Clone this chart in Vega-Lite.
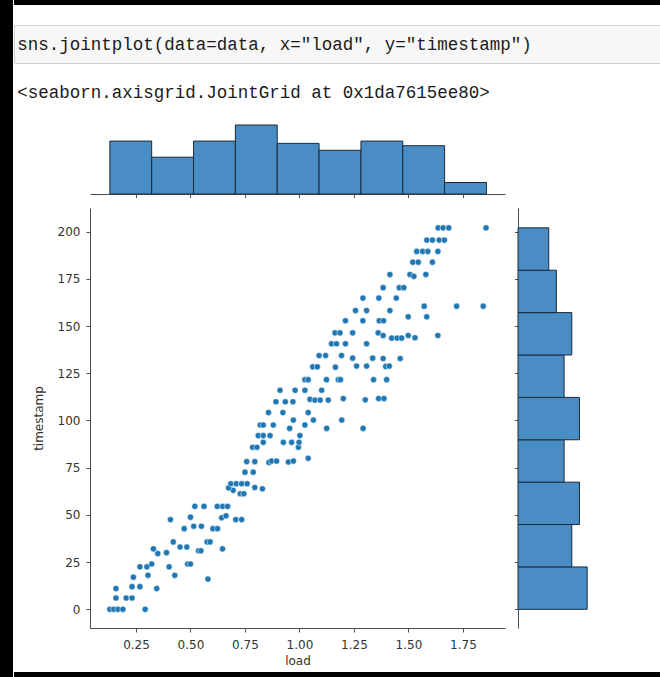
{
  "$schema": "https://vega.github.io/schema/vega-lite/v6.json",
  "background": "white",
  "padding": 0,
  "config": {
    "view": {"stroke": null},
    "axis": {
      "labelFont": "DejaVu Sans", "titleFont": "DejaVu Sans",
      "labelFontSize": 12, "titleFontSize": 12, "titleFontWeight": "normal",
      "labelColor": "#333333", "titleColor": "#333333",
      "domainColor": "#4d4d4d", "tickColor": "#4d4d4d", "domainWidth": 1, "tickWidth": 1,
      "tickSize": 4, "grid": false
    }
  },
  "datasets": {
    "none": [],
    "code": [{"line": "sns.jointplot(data=data, x=\"load\", y=\"timestamp\")"}],
    "out": [{"line": "<seaborn.axisgrid.JointGrid at 0x1da7615ee80>"}],
    "loadHist": [
      {"lo": 0.13, "hi": 0.322, "count": 23},
      {"lo": 0.322, "hi": 0.514, "count": 16},
      {"lo": 0.514, "hi": 0.706, "count": 23},
      {"lo": 0.706, "hi": 0.898, "count": 30},
      {"lo": 0.898, "hi": 1.09, "count": 22},
      {"lo": 1.09, "hi": 1.282, "count": 19},
      {"lo": 1.282, "hi": 1.474, "count": 23},
      {"lo": 1.474, "hi": 1.666, "count": 21},
      {"lo": 1.666, "hi": 1.858, "count": 5}
    ],
    "tsHist": [
      {"lo": 0, "hi": 22.44, "count": 27},
      {"lo": 22.44, "hi": 44.89, "count": 21},
      {"lo": 44.89, "hi": 67.33, "count": 24},
      {"lo": 67.33, "hi": 89.78, "count": 18},
      {"lo": 89.78, "hi": 112.22, "count": 24},
      {"lo": 112.22, "hi": 134.67, "count": 18},
      {"lo": 134.67, "hi": 157.11, "count": 21},
      {"lo": 157.11, "hi": 179.56, "count": 15},
      {"lo": 179.56, "hi": 202, "count": 12}
    ],
    "points": [
      {"load":0.13,"timestamp":0},{"load":0.148,"timestamp":0},{"load":0.167,"timestamp":0},{"load":0.19,"timestamp":0},{"load":0.292,"timestamp":0},
      {"load":0.158,"timestamp":6},{"load":0.205,"timestamp":6},{"load":0.232,"timestamp":6},
      {"load":0.158,"timestamp":11},{"load":0.232,"timestamp":12},{"load":0.268,"timestamp":12},{"load":0.345,"timestamp":11},
      {"load":0.238,"timestamp":17},{"load":0.58,"timestamp":16},
      {"load":0.305,"timestamp":18},{"load":0.428,"timestamp":18},
      {"load":0.268,"timestamp":22.5},{"load":0.3,"timestamp":22.5},{"load":0.402,"timestamp":22.5},
      {"load":0.322,"timestamp":24},{"load":0.487,"timestamp":24},{"load":0.5,"timestamp":24},
      {"load":0.35,"timestamp":29.5},{"load":0.39,"timestamp":30},{"load":0.537,"timestamp":31},{"load":0.548,"timestamp":31},
      {"load":0.33,"timestamp":32},{"load":0.647,"timestamp":32},
      {"load":0.452,"timestamp":33},{"load":0.483,"timestamp":33},
      {"load":0.421,"timestamp":35.7},{"load":0.576,"timestamp":35.7},{"load":0.59,"timestamp":35.7},
      {"load":0.471,"timestamp":42.7},{"load":0.603,"timestamp":42.7},{"load":0.624,"timestamp":42.7},
      {"load":0.515,"timestamp":44},{"load":0.55,"timestamp":44},
      {"load":0.408,"timestamp":47.5},{"load":0.643,"timestamp":48.5},{"load":0.663,"timestamp":49.5},{"load":0.708,"timestamp":47.5},{"load":0.735,"timestamp":47.5},
      {"load":0.5,"timestamp":48.8},
      {"load":0.52,"timestamp":54.5},{"load":0.562,"timestamp":54.5},{"load":0.623,"timestamp":54.5},{"load":0.648,"timestamp":54.5},{"load":0.67,"timestamp":54.5},
      {"load":0.728,"timestamp":61.2},{"load":0.745,"timestamp":61.2},
      {"load":0.696,"timestamp":63},
      {"load":0.795,"timestamp":64.5},{"load":0.83,"timestamp":63.8},{"load":0.675,"timestamp":64.3},
      {"load":0.685,"timestamp":66.5},{"load":0.71,"timestamp":66.5},{"load":0.735,"timestamp":66.5},{"load":0.76,"timestamp":66.5},
      {"load":0.75,"timestamp":72.6},{"load":0.788,"timestamp":72.6},
      {"load":0.758,"timestamp":78.2},{"load":0.795,"timestamp":78.2},{"load":0.86,"timestamp":77.8},{"load":0.872,"timestamp":78.5},{"load":0.895,"timestamp":78.5},{"load":0.949,"timestamp":78},{"load":0.972,"timestamp":78.5},{"load":1.04,"timestamp":80},
      {"load":0.785,"timestamp":85.8},{"load":0.805,"timestamp":85.8},{"load":0.995,"timestamp":85.8},
      {"load":0.834,"timestamp":88.4},{"load":0.926,"timestamp":88.4},{"load":0.964,"timestamp":88.4},{"load":0.998,"timestamp":88.4},
      {"load":0.811,"timestamp":92},{"load":0.834,"timestamp":92},{"load":0.865,"timestamp":92},{"load":1.002,"timestamp":92},
      {"load":0.82,"timestamp":97.6},{"load":0.834,"timestamp":97.6},{"load":0.88,"timestamp":97.6},{"load":1.025,"timestamp":97.6},
      {"load":0.955,"timestamp":95.8},{"load":1.125,"timestamp":95.8},{"load":1.292,"timestamp":95.8},
      {"load":0.972,"timestamp":100.2},{"load":1.064,"timestamp":100.2},{"load":1.194,"timestamp":100.2},
      {"load":0.858,"timestamp":104.2},{"load":0.924,"timestamp":104.2},{"load":1.04,"timestamp":104.2},
      {"load":0.892,"timestamp":109.9},{"load":0.935,"timestamp":109.9},{"load":0.97,"timestamp":109.9},
      {"load":1.048,"timestamp":111.2},{"load":1.071,"timestamp":110.8},{"load":1.095,"timestamp":110.8},{"load":1.132,"timestamp":110.8},{"load":1.201,"timestamp":111.6},{"load":1.302,"timestamp":110.9},{"load":1.363,"timestamp":111.6},{"load":1.388,"timestamp":111.6},
      {"load":0.911,"timestamp":116},{"load":0.98,"timestamp":116},{"load":1.025,"timestamp":116},{"load":1.102,"timestamp":116},
      {"load":1.025,"timestamp":121.6},{"load":1.04,"timestamp":121.6},{"load":1.124,"timestamp":121.6},{"load":1.178,"timestamp":121.6},{"load":1.188,"timestamp":121.6},{"load":1.34,"timestamp":121.6},{"load":1.4,"timestamp":121.6},
      {"load":1.061,"timestamp":128.4},{"load":1.082,"timestamp":128.4},{"load":1.165,"timestamp":128.2},{"load":1.262,"timestamp":128.8},{"load":1.308,"timestamp":128.8},{"load":1.396,"timestamp":128.6},{"load":1.412,"timestamp":128.8},
      {"load":1.09,"timestamp":134.4},{"load":1.12,"timestamp":134.4},{"load":1.193,"timestamp":134.4},
      {"load":1.244,"timestamp":133},{"load":1.336,"timestamp":133},{"load":1.384,"timestamp":132.8},{"load":1.462,"timestamp":132.8},
      {"load":1.147,"timestamp":140.6},{"load":1.17,"timestamp":140.6},{"load":1.211,"timestamp":140.6},{"load":1.308,"timestamp":140.6},
      {"load":1.163,"timestamp":146.4},{"load":1.186,"timestamp":146.4},{"load":1.244,"timestamp":146.4},{"load":1.361,"timestamp":146.4},
      {"load":1.384,"timestamp":145},{"load":1.499,"timestamp":145},{"load":1.635,"timestamp":145},
      {"load":1.423,"timestamp":143.6},{"load":1.448,"timestamp":143.6},{"load":1.469,"timestamp":143.6},{"load":1.53,"timestamp":143.8},
      {"load":1.211,"timestamp":152.8},{"load":1.291,"timestamp":152.8},{"load":1.366,"timestamp":152.8},{"load":1.386,"timestamp":152.8},
      {"load":1.499,"timestamp":154.9},{"load":1.584,"timestamp":154.9},
      {"load":1.257,"timestamp":158.2},{"load":1.308,"timestamp":158.2},{"load":1.415,"timestamp":158.2},
      {"load":1.572,"timestamp":160.5},{"load":1.721,"timestamp":160.5},{"load":1.843,"timestamp":160.5},
      {"load":1.291,"timestamp":164.8},{"load":1.364,"timestamp":164.8},{"load":1.444,"timestamp":164.8},
      {"load":1.384,"timestamp":170.3},{"load":1.458,"timestamp":170.3},{"load":1.479,"timestamp":170.3},
      {"load":1.415,"timestamp":177.3},{"load":1.507,"timestamp":177.3},{"load":1.525,"timestamp":176.3},{"load":1.58,"timestamp":177.3},
      {"load":1.52,"timestamp":183.8},{"load":1.545,"timestamp":183.8},{"load":1.61,"timestamp":183.8},
      {"load":1.538,"timestamp":189.5},{"load":1.565,"timestamp":189.5},{"load":1.589,"timestamp":189.5},{"load":1.635,"timestamp":189.5},
      {"load":1.584,"timestamp":195.5},{"load":1.61,"timestamp":195.5},{"load":1.641,"timestamp":195.5},{"load":1.665,"timestamp":195.5},
      {"load":1.636,"timestamp":202},{"load":1.659,"timestamp":202},{"load":1.685,"timestamp":202},{"load":1.856,"timestamp":202}
    ]
  },
  "spacing": 0,
  "hconcat": [
    {"width": 13, "height": 700, "data": {"name": "none"}, "mark": "rect", "encoding": {}, "view": {"fill": "black", "stroke": null}},
    {
      "spacing": 0,
      "vconcat": [
        {"width": 647, "height": 5, "data": {"name": "none"}, "mark": "rect", "encoding": {}, "view": {"fill": "black", "stroke": null}},
        {"width": 10, "height": 19, "data": {"name": "none"}, "mark": "rect", "encoding": {}},
        {
          "width": 646, "height": 38,
          "data": {"name": "code"},
          "view": {"fill": "#f7f7f7", "stroke": "#d0d0d0"},
          "mark": {"type": "text", "align": "left", "baseline": "middle", "font": "Liberation Mono", "fontSize": 17.5, "color": "#1a1a1a", "dy": 1},
          "encoding": {
            "text": {"field": "line"},
            "x": {"datum": 0, "type": "quantitative", "scale": {"domain": [-0.005, 1]}, "axis": null}
          }
        },
        {
          "width": 646, "height": 58,
          "data": {"name": "out"},
          "mark": {"type": "text", "align": "left", "baseline": "middle", "font": "Liberation Mono", "fontSize": 17.5, "color": "#1a1a1a"},
          "encoding": {
            "text": {"field": "line"},
            "x": {"datum": 0, "type": "quantitative", "scale": {"domain": [-0.005, 1]}, "axis": null}
          }
        },
        {
          "spacing": 0,
          "hconcat": [
            {"width": 18, "height": 1, "data": {"name": "none"}, "mark": "rect", "encoding": {}},
            {
              "columns": 2,
              "align": "each",
              "bounds": "flush",
              "spacing": {"row": 14, "column": 13},
              "concat": [
                {
                  "width": 415, "height": 72,
                  "data": {"name": "loadHist"},
                  "mark": {"type": "rect", "fill": "#4a8dc4", "stroke": "#1b2a3a", "strokeWidth": 1},
                  "encoding": {
                    "x": {"field": "lo", "type": "quantitative", "scale": {"domain": [0.039, 1.943], "nice": false, "zero": false},
                          "axis": {"values": [0.25, 0.5, 0.75, 1, 1.25, 1.5, 1.75], "labels": false, "title": null, "tickSize": 3.5}},
                    "x2": {"field": "hi"},
                    "y": {"field": "count", "type": "quantitative", "scale": {"domain": [0, 31.3], "nice": false}, "axis": null},
                    "y2": {"datum": 0}
                  }
                },
                {"width": 73, "height": 72, "data": {"name": "none"}, "mark": "rect", "encoding": {}},
                {
                  "width": 415, "height": 420,
                  "data": {"name": "points"},
                  "mark": {"type": "point", "filled": true, "size": 38, "color": "#1f77b4", "stroke": "#ffffff", "strokeWidth": 0.5, "opacity": 1},
                  "encoding": {
                    "x": {"field": "load", "type": "quantitative", "scale": {"domain": [0.039, 1.943], "nice": false, "zero": false},
                          "axis": {"values": [0.25, 0.5, 0.75, 1, 1.25, 1.5, 1.75], "format": ".2f", "title": "load", "labelPadding": 7, "titlePadding": 5}},
                    "y": {"field": "timestamp", "type": "quantitative", "scale": {"domain": [-9.9, 212.5], "nice": false, "zero": false},
                          "axis": {"values": [0, 25, 50, 75, 100, 125, 150, 175, 200], "format": "d", "title": "timestamp", "labelPadding": 6, "titlePadding": 12}}
                  }
                },
                {
                  "width": 73, "height": 420,
                  "data": {"name": "tsHist"},
                  "mark": {"type": "rect", "fill": "#4a8dc4", "stroke": "#1b2a3a", "strokeWidth": 1},
                  "encoding": {
                    "y": {"field": "lo", "type": "quantitative", "scale": {"domain": [-9.9, 212.5], "nice": false, "zero": false},
                          "axis": {"values": [0, 25, 50, 75, 100, 125, 150, 175, 200], "labels": false, "title": null, "tickSize": 3.5}},
                    "y2": {"field": "hi"},
                    "x": {"field": "count", "type": "quantitative", "scale": {"domain": [0, 28.5], "nice": false}, "axis": null},
                    "x2": {"datum": 0}
                  }
                }
              ]
            }
          ]
        },
        {"width": 10, "height": 6, "data": {"name": "none"}, "mark": "rect", "encoding": {}},
        {"width": 647, "height": 20, "data": {"name": "none"}, "mark": "rect", "encoding": {}, "view": {"fill": "black", "stroke": null}}
      ]
    }
  ]
}
